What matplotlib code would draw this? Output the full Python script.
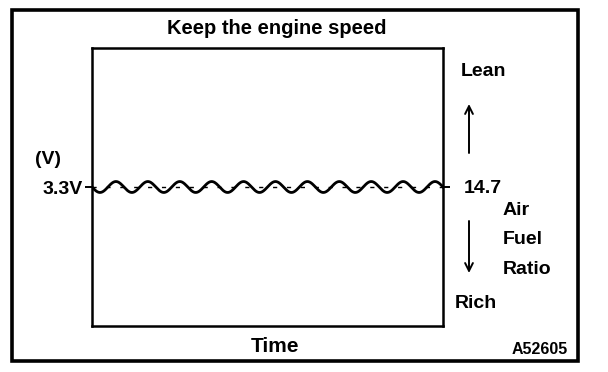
import numpy as np
import matplotlib
matplotlib.use("Agg")
import matplotlib.pyplot as plt
from matplotlib.patches import Rectangle

# ---- data (schematic O2 sensor signal) ----
title_text = "Keep the engine speed"
x_label = "Time"
left_unit = "(V)"
left_tick_value = [3.3]
left_tick_label = ["3.3V"]
right_tick_label = ["14.7"]
ratio_words = ["Air", "Fuel", "Ratio"]
lean_label = "Lean"
rich_label = "Rich"
figure_code = "A52605"
wave_cycles = 11          # oscillations visible across the time span
wave_amplitude = 0.13     # volts, small ripple around 3.3 V
y_range = [0.0, 6.6]

W, H = 608, 372
fig = plt.figure(figsize=(W / 100, H / 100), dpi=100)
plt.rcParams['font.family'] = ['Liberation Sans', 'DejaVu Sans']

def fx(x):
    return x / W

def fy(y):
    return 1 - y / H

# outer frame
fig.patches.append(Rectangle((fx(12), fy(361)), fx(578) - fx(12), fy(10) - fy(361),
                             transform=fig.transFigure, fill=False,
                             edgecolor='black', linewidth=2.6))

# inner plot box
ax = fig.add_axes([fx(92), fy(326), fx(443) - fx(92), fy(48) - fy(326)])
for s in ax.spines.values():
    s.set_linewidth(1.8)
ax.set_xlim(0, wave_cycles)
ax.set_ylim(*y_range)

t = np.linspace(0, wave_cycles, 1200)
v = left_tick_value[0] - wave_amplitude * np.sin(2 * np.pi * t)
ax.plot(t, v, color='black', linewidth=2.0)
ax.axhline(left_tick_value[0], color='black', linewidth=1.0, dashes=(3, 7))

ax.set_xticks([])
ax.set_yticks(left_tick_value)
ax.set_yticklabels(left_tick_label, fontsize=14, fontweight='bold')
ax.tick_params(axis='y', direction='out', length=5, width=1.4, pad=2)

axr = ax.twinx()
axr.set_ylim(*y_range)
axr.set_yticks(left_tick_value)
axr.set_yticklabels(right_tick_label, fontsize=14, fontweight='bold')
axr.tick_params(axis='y', direction='out', length=5, width=1.4, pad=10)
for s in axr.spines.values():
    s.set_visible(False)

bold = dict(fontweight='bold', color='black')
fig.text(fx(277), fy(28), title_text, ha='center', va='center', fontsize=14.5, **bold)
fig.text(fx(275), fy(346), x_label, ha='center', va='center', fontsize=15, **bold)
fig.text(fx(568), fy(349), figure_code, ha='right', va='center', fontsize=11.5, **bold)
fig.text(fx(48), fy(159), left_unit, ha='center', va='center', fontsize=14, **bold)
fig.text(fx(461), fy(72), lean_label, ha='left', va='center', fontsize=14, **bold)
fig.text(fx(455), fy(303), rich_label, ha='left', va='center', fontsize=14, **bold)
for i, w in enumerate(ratio_words):
    fig.text(fx(503), fy(210 + 30 * i), w, ha='left', va='center', fontsize=14, **bold)

arrow = dict(arrowstyle='->', color='black', lw=1.4, mutation_scale=14,
             shrinkA=0, shrinkB=0)
fig.add_artist(plt.Annotation('', xy=(fx(469), fy(104)), xytext=(fx(469), fy(153)),
                              xycoords='figure fraction', textcoords='figure fraction',
                              arrowprops=arrow))
fig.add_artist(plt.Annotation('', xy=(fx(469), fy(273)), xytext=(fx(469), fy(221)),
                              xycoords='figure fraction', textcoords='figure fraction',
                              arrowprops=arrow))

fig.savefig("out.png", dpi=100, facecolor='white')
